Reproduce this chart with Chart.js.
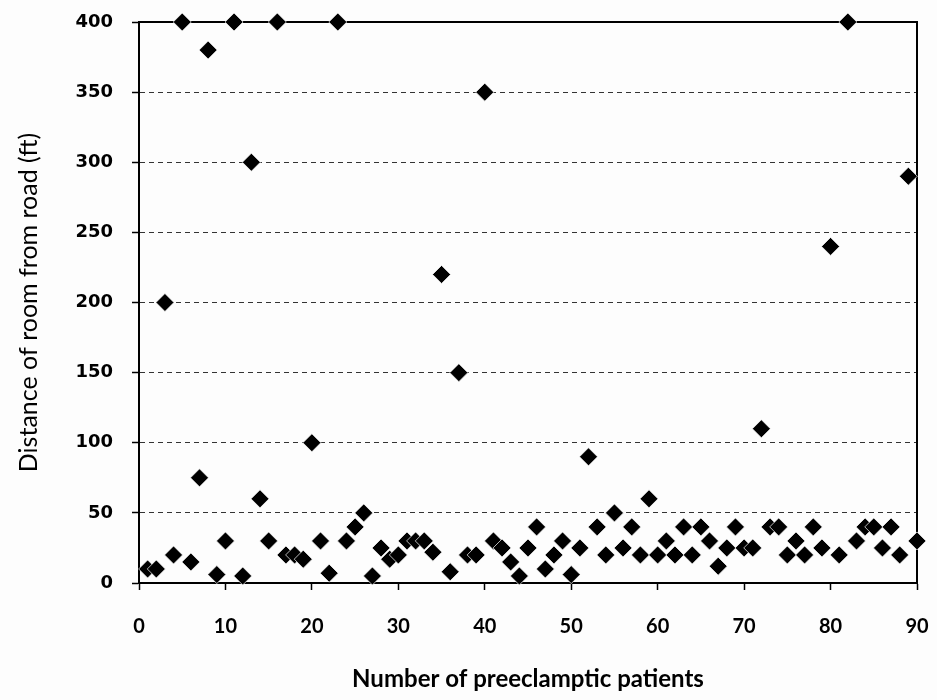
<!DOCTYPE html>
<html>
<head>
<meta charset="utf-8">
<title>Distance of room from road</title>
<script src="https://cdn.jsdelivr.net/npm/chart.js@4/dist/chart.umd.min.js"></script>
<style>
  html, body { margin: 0; padding: 0; background: #fdfdfd; }
  #chart { display: block; }
</style>
</head>
<body>
<canvas id="chart" width="937" height="700"></canvas>
<script>
// patient number (x) and distance of room from road in ft (y)
const patients = [
  1, 2, 3, 4, 5, 6, 7, 8, 9, 10,
  11, 12, 13, 14, 15, 16, 17, 18, 19, 20,
  21, 22, 23, 24, 25, 26, 27, 28, 29, 30,
  31, 32, 33, 34, 35, 36, 37, 38, 39, 40,
  41, 42, 43, 44, 45, 46, 47, 48, 49, 50,
  51, 52, 53, 54, 55, 56, 57, 58, 59, 60,
  61, 62, 63, 64, 65, 66, 67, 68, 69, 70,
  71, 72, 73, 74, 75, 76, 77, 78, 79, 80,
  81, 82, 83, 84, 85, 86, 87, 88, 89, 90
];
const distances = [
  10, 10, 200, 20, 400, 15, 75, 380, 6, 30,
  400, 5, 300, 60, 30, 400, 20, 20, 17, 100,
  30, 7, 400, 30, 40, 50, 5, 25, 17, 20,
  30, 30, 30, 22, 220, 8, 150, 20, 20, 350,
  30, 25, 15, 5, 25, 40, 10, 20, 30, 6,
  25, 90, 40, 20, 50, 25, 40, 20, 60, 20,
  30, 20, 40, 20, 40, 30, 12, 25, 40, 25,
  25, 110, 40, 40, 20, 30, 20, 40, 25, 240,
  20, 400, 30, 40, 40, 25, 40, 20, 290, 30
];
const xTicks = [0, 10, 20, 30, 40, 50, 60, 70, 80, 90];
const yTicks = [0, 50, 100, 150, 200, 250, 300, 350, 400];

const points = patients.map((p, i) => ({ x: p, y: distances[i] }));

// solid frame round the plot area (top and right edges too)
const frame = {
  id: 'frame',
  beforeDatasetsDraw(chart) {
    const a = chart.chartArea;
    const ctx = chart.ctx;
    ctx.save();
    ctx.strokeStyle = '#000';
    ctx.lineWidth = 2;
    ctx.strokeRect(a.left, a.top, a.right - a.left, a.bottom - a.top);
    ctx.restore();
  }
};

new Chart(document.getElementById('chart'), {
  type: 'scatter',
  data: {
    datasets: [{
      data: points,
      pointStyle: 'rectRot',
      pointRadius: 9,
      pointHoverRadius: 9,
      backgroundColor: '#000',
      borderColor: 'rgba(255,255,255,0.7)',
      borderWidth: 1,
      clip: false
    }]
  },
  options: {
    responsive: false,
    animation: false,
    layout: { padding: { top: 22, right: 20, left: 0, bottom: 0 } },
    plugins: {
      legend: { display: false },
      tooltip: { enabled: false }
    },
    scales: {
      x: {
        type: 'linear',
        min: 0,
        max: 90,
        afterBuildTicks(scale) { scale.ticks = xTicks.map(v => ({ value: v })); },
        afterFit(scale) {
          scale.height = 117;
          scale.paddingLeft = 0;
          scale.paddingRight = 0;
        },
        grid: { drawOnChartArea: false, tickLength: 7, tickColor: '#000', tickWidth: 1.5 },
        border: { color: '#000', width: 2 },
        ticks: {
          color: '#000',
          padding: 25,
          maxRotation: 0,
          font: { family: 'Lato', weight: 'bold', size: 20 }
        },
        title: {
          display: true,
          text: 'Number of preeclamptic patients',
          color: '#000',
          padding: { top: 0, bottom: 6 },
          font: { family: 'Lato', weight: 'bold', size: 24 }
        }
      },
      y: {
        min: 0,
        max: 400,
        afterBuildTicks(scale) { scale.ticks = yTicks.map(v => ({ value: v })); },
        afterFit(scale) {
          scale.width = 139;
          scale.paddingTop = 0;
          scale.paddingBottom = 0;
        },
        grid: {
          color: ctx => (ctx.tick && (ctx.tick.value === 0 || ctx.tick.value === 400)) ? 'rgba(0,0,0,0)' : '#333',
          lineWidth: 1,
          tickLength: 7,
          tickColor: '#000',
          tickWidth: 1.5
        },
        border: { color: '#000', width: 2, dash: [5, 4] },
        ticks: {
          color: '#000',
          padding: 19,
          font: { family: 'DejaVu Sans', weight: 'bold', size: 18 }
        },
        title: {
          display: true,
          text: 'Distance of room from road (ft)',
          color: '#000',
          padding: { top: 14, bottom: 0 },
          font: { family: 'Lato', size: 25 }
        }
      }
    }
  },
  plugins: [frame]
});
</script>
</body>
</html>
